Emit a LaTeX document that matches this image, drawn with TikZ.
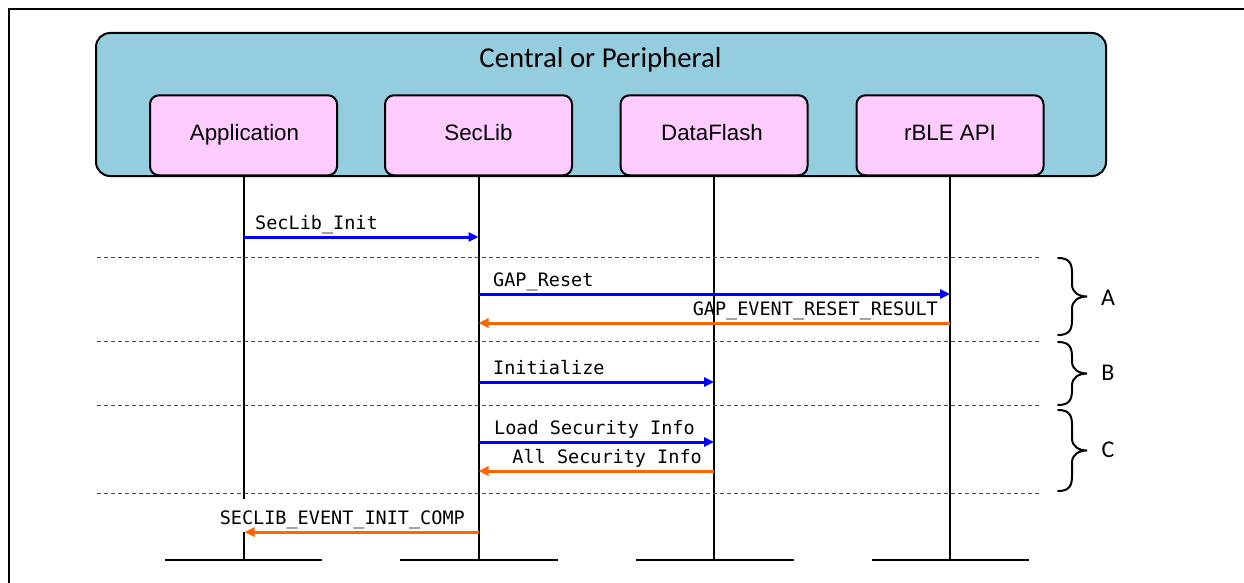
\documentclass[tikz,border=0pt]{standalone}
\usepackage{fontspec}
\setmainfont{Liberation Sans}
\newfontfamily\titlefont{Carlito}
\newfontfamily\monofont{DejaVu Sans Mono}
\usetikzlibrary{arrows.meta}
\definecolor{outerfill}{RGB}{148,205,221}
\definecolor{innerfill}{RGB}{255,204,255}
\definecolor{msgblue}{RGB}{0,0,255}
\definecolor{msgorange}{RGB}{255,102,0}
\newcommand\curlybrace[3]{%
  \pgfmathsetmacro\bym{(#2+#3)/2}%
  \draw[bracestyle] (#1,#2) .. controls (#1+11,#2) and (#1+14,#2+5) .. (#1+14,#2+15)
    -- (#1+14,\bym-12) .. controls (#1+14,\bym-4) and (#1+21,\bym) .. (#1+29,\bym)
    .. controls (#1+21,\bym) and (#1+14,\bym+4) .. (#1+14,\bym+12)
    -- (#1+14,#3-15) .. controls (#1+14,#3-5) and (#1+11,#3) .. (#1,#3);%
}
\begin{document}
\begin{tikzpicture}[x=1pt,y=-1pt,
  outerbox/.style={draw, line width=2pt, fill=outerfill, rounded corners=14pt,
    minimum width=1010pt, minimum height=143pt, inner sep=0pt},
  actor/.style={draw, line width=2pt, fill=innerfill, rounded corners=9pt,
    minimum width=187pt, minimum height=80pt, inner sep=0pt},
  lifeline/.style={line width=2pt},
  endbar/.style={line width=2.5pt},
  sepline/.style={line width=1pt, black!70, dash pattern=on 4pt off 3pt},
  req/.style={line width=3pt, msgblue, -{Triangle[length=10pt,width=9pt]}},
  resp/.style={line width=3pt, msgorange, -{Triangle[length=10pt,width=9pt]}},
  msglabel/.style={font=\monofont\fontsize{18.5}{20}\selectfont, inner sep=0pt},
  boxlabel/.style={font=\fontsize{22.3}{26}\selectfont, inner sep=0pt, anchor=base},
  titlelabel/.style={font=\titlefont\fontsize{28.8}{32}\selectfont, inner sep=0pt, anchor=base},
  bracelabel/.style={font=\titlefont\fontsize{24}{28}\selectfont, inner sep=0pt},
  bracestyle/.style={line width=2pt, line cap=round}
]
\useasboundingbox (0,0) rectangle (1244,583);
% frame
\coordinate (fbl) at (9,583);
\coordinate (ftl) at (9,9);
\coordinate (ftr) at (1244,9);
\draw[line width=2pt] (fbl) -- (ftl) -- (ftr);

% container
\node[outerbox] (dev) at (601,104.5) {};
\node[titlelabel] (title) at (600.5,67.3) {Central or Peripheral};

% actors
\node[actor] (app) at (243.5,135.3) {};
\node[actor] (sec) at (478.5,135.3) {};
\node[actor] (df)  at (714,135.3) {};
\node[actor] (rble) at (950,135.3) {};
\node[boxlabel] (appl) at (244.5,140) {Application};
\node[boxlabel] (secl) at (478.5,140) {SecLib};
\node[boxlabel] (dfl) at (712,140) {DataFlash};
\node[boxlabel] (rblel) at (950,140) {rBLE API};

% lifeline ends
\coordinate (appE) at (243.5,560);
\coordinate (secE) at (478.5,560);
\coordinate (dfE)  at (714,560);
\coordinate (rbleE) at (950,560);
\draw[lifeline] (app.south) -- (appE);
\draw[lifeline] (sec.south) -- (secE);
\draw[lifeline] (df.south) -- (dfE);
\draw[lifeline] (rble.south) -- (rbleE);
\draw[endbar] (165,560) -- (322,560);
\draw[endbar] (400,560) -- (558,560);
\draw[endbar] (636,560) -- (794,560);
\draw[endbar] (872,560) -- (1029,560);

% separators
\foreach \yy/\nm in {257/s1,341/s2,405/s3,493/s4}{
  \coordinate (\nm a) at (97,\yy);
  \coordinate (\nm b) at (1040,\yy);
  \draw[sepline] (\nm a) -- (\nm b);
}

% message labels
\node[msglabel, anchor=base west] (m1) at (255,229) {SecLib\_Init};
\node[msglabel, anchor=base west] (m2) at (493,286) {GAP\_Reset};
\node[msglabel, anchor=base east] (m3) at (938,315) {GAP\_EVENT\_RESET\_RESULT};
\node[msglabel, anchor=base west] (m4) at (493,374) {Initialize};
\node[msglabel, anchor=base west] (m5) at (494,434) {Load Security Info};
\node[msglabel, anchor=base east] (m6) at (702,463) {All Security Info};
\node[msglabel, anchor=base east, fill=white, inner xsep=1pt, text height=25pt, text depth=8pt] (m7) at (466,524) {SECLIB\_EVENT\_INIT\_COMP};

% message endpoints
\coordinate (a1) at (243.5,237);  \coordinate (b1) at (478.5,237);
\coordinate (a2) at (478.5,294);  \coordinate (b2) at (950,294);
\coordinate (a3) at (950,323);    \coordinate (b3) at (478.5,323);
\coordinate (a4) at (478.5,382);  \coordinate (b4) at (714,382);
\coordinate (a5) at (478.5,442);  \coordinate (b5) at (714,442);
\coordinate (a6) at (714,471);    \coordinate (b6) at (478.5,471);
\coordinate (a7) at (478.5,532);  \coordinate (b7) at (244.5,532);
\draw[req] (a1) -- (b1);
\draw[req] (a2) -- (b2);
\draw[resp] (a3) -- (b3);
\draw[req] (a4) -- (b4);
\draw[req] (a5) -- (b5);
\draw[resp] (a6) -- (b6);
\draw[resp] (a7) -- (b7);

% braces
\curlybrace{1058}{258}{335}
\curlybrace{1058}{342}{405}
\curlybrace{1058}{410}{491}
\node[bracelabel] (gA) at (1108,298) {A};
\node[bracelabel] (gB) at (1108,373) {B};
\node[bracelabel] (gC) at (1108,450) {C};
\end{tikzpicture}
\end{document}
